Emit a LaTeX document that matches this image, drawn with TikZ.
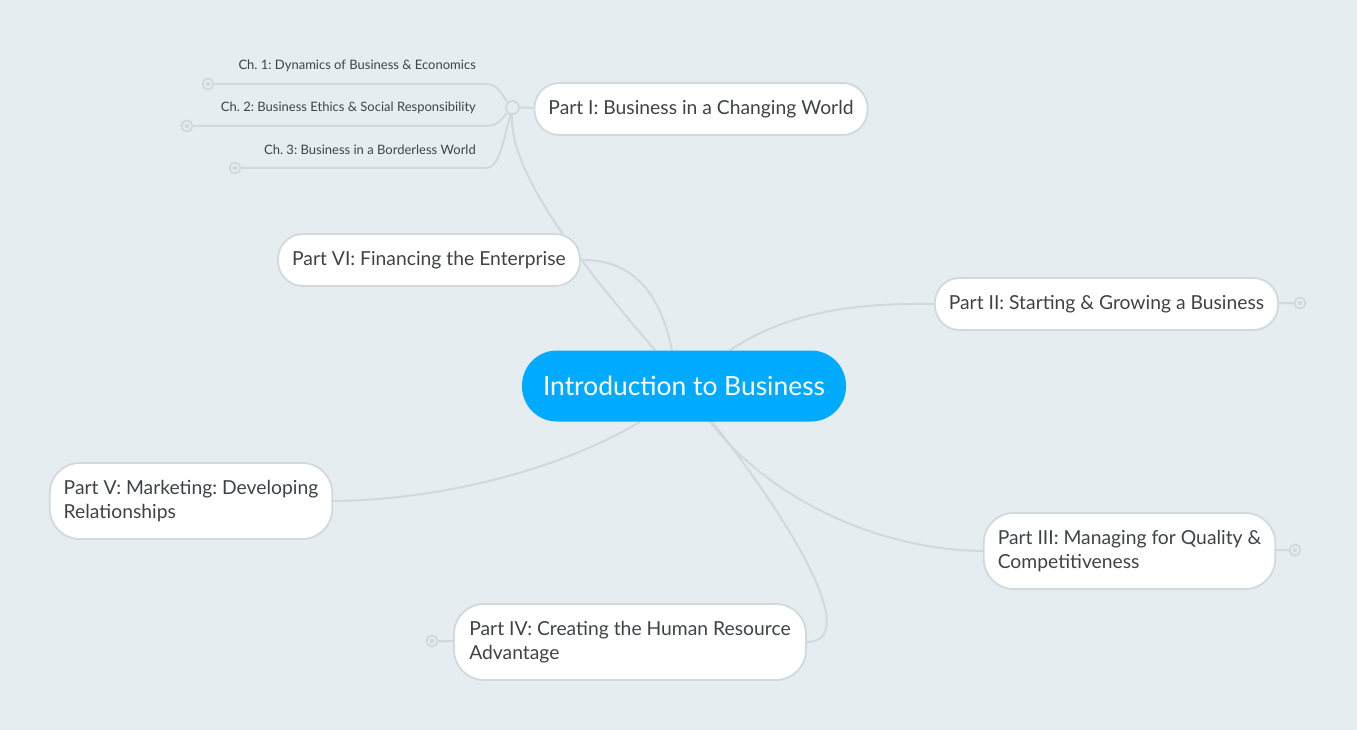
\documentclass[tikz,border=0pt]{standalone}
\usepackage{fontspec}
\setmainfont{Lato}
\frenchspacing
\usetikzlibrary{positioning,calc}

\definecolor{bgcol}{HTML}{E6EDF1}
\definecolor{maincol}{HTML}{00AAFF}
\definecolor{edgecol}{HTML}{D2D9DD}
\definecolor{txtcol}{HTML}{3E4347}
\pgfdeclarelayer{back}
\pgfsetlayers{back,main}

\begin{document}
\begin{tikzpicture}[x=1pt,y=-1pt,
	part/.style={draw=edgecol,line width=1.8pt,fill=white,rounded corners=25pt,
		minimum height=52pt,text=txtcol,font=\fontsize{19.3}{24}\selectfont,
		align=left,inner xsep=14pt},
	twoline/.style={minimum height=76pt,rounded corners=30pt},
	root/.style={fill=maincol,rounded corners=35pt,minimum width=324pt,
		minimum height=71pt,text=white,font=\fontsize{26.4}{30}\selectfont},
	chap/.style={text=txtcol,font=\fontsize{13}{15}\selectfont,inner sep=0pt,anchor=east},
	knob/.style={circle,draw=edgecol,fill=bgcol,line width=1.8pt,minimum size=11pt,
		inner sep=0pt,path picture={\fill[edgecol] (path picture bounding box.center) circle (2.3pt);}},
	hub/.style={circle,draw=edgecol,fill=bgcol,line width=1.8pt,minimum size=13pt,inner sep=0pt},
	link/.style={draw=edgecol,line width=2pt}]

	\node[root] (root) at (684,386) {Introduction to Business};
	\node[part,minimum width=332pt] (p1) at (701,109) {Part I: Business in a Changing World};
	\node[part,minimum width=343pt] (p2) at (1106.5,304) {Part II: Starting \& Growing a Business};
	\node[part,twoline,minimum width=287pt] 
		  (p3) at (1129.5,551) {Part III: Managing for Quality \&\\Competitiveness};
	\node[part,twoline,minimum width=352pt] 
		  (p4) at (630,642) {Part IV: Creating the Human Resource\\Advantage};
	\node[part,twoline,minimum width=280pt] 
		  (p5) at (191,501) {Part V: Marketing: Developing\\Relationships};
	\node[part,minimum width=302pt] (p6) at (429,260) {Part VI: Financing the Enterprise};

	\node[hub] (hub) at (512.5,107.5) {};
	\node[chap] (ch1) at (476,66) {Ch. 1: Dynamics of Business \& Economics};
	\node[chap] (ch2) at (476,108) {Ch. 2: Business Ethics \& Social Responsibility};
	\node[chap] (ch3) at (476,150) {Ch. 3: Business in a Borderless World};

	\node[knob] (k1) at (208,84) {};
	\node[knob] (k2) at (187,126) {};
	\node[knob] (k3) at (235,168) {};
	\node[knob] (k4) at (1300,303) {};
	\node[knob] (k5) at (1295,550) {};
	\node[knob] (k6) at (432,641) {};

	\begin{pgfonlayer}{back}
	\fill[bgcol] (0,0) rectangle (1357,730);
	\draw[link] ([xshift=-29pt]root.north) .. controls (560,240) and (505,160) .. (hub.center);
	\draw[link] ([xshift=-12pt]root.north) .. controls (660,290) and (630,259) .. (p6.east);
	\draw[link] ([xshift=46pt]root.north) .. controls (790,310) and (860,303) .. (p2.west);
	\draw[link] ([xshift=26pt]root.south) .. controls (770,500) and (880,550) .. (p3.west);
	\draw[link] ([xshift=28pt]root.south) .. controls (805,540) and (858,642) .. (p4.east);
	\draw[link] ([xshift=-44pt]root.south) .. controls (560,470) and (440,500) .. (p5.east);
	\draw[link] (hub) -- (p1);
	\draw[link] (p2) -- (k4);
	\draw[link] (p3) -- (k5);
	\draw[link] (p4) -- (k6);
	\draw[link] (hub.center) .. controls (502,98) and (500,84) .. (486,84) -- (k1);
	\draw[link] (hub.center) .. controls (502,117) and (500,126) .. (486,126) -- (k2);
	\draw[link] (hub.center) .. controls (503,140) and (500,168) .. (486,168) -- (k3);
	\end{pgfonlayer}
\end{tikzpicture}
\end{document}
